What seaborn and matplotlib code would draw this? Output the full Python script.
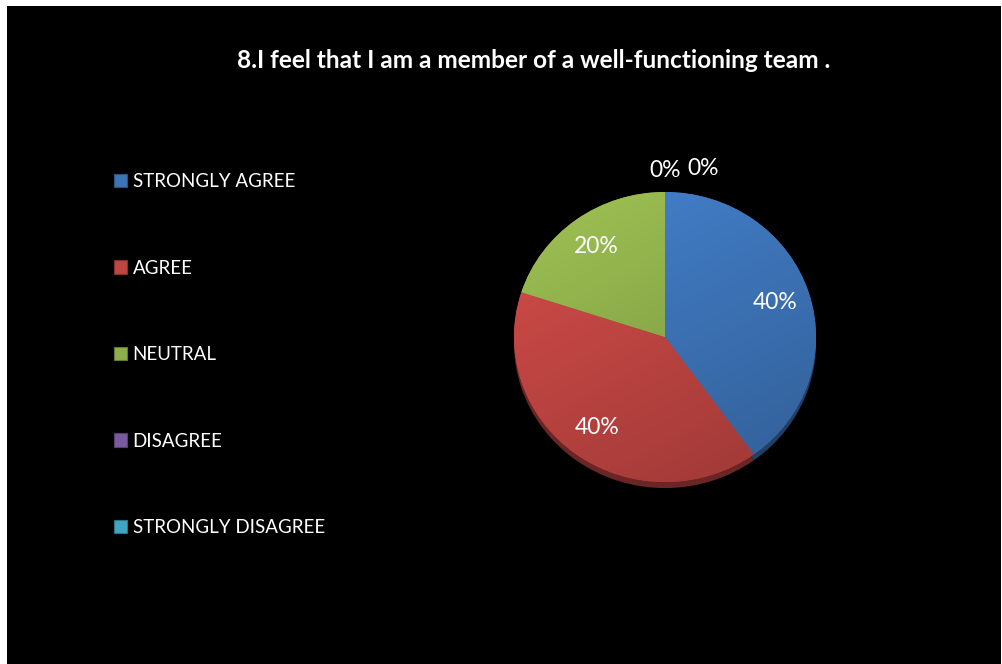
import numpy as np
import matplotlib
matplotlib.use("Agg")
import matplotlib.pyplot as plt
from matplotlib.patches import Rectangle
from matplotlib.colors import LinearSegmentedColormap, to_rgb
import seaborn as sns

# Survey responses
title = "8.I feel that I am a member of a well-functioning team ."
categories = ["STRONGLY AGREE", "AGREE", "NEUTRAL", "DISAGREE", "STRONGLY DISAGREE"]
shares = [40, 40, 20, 0, 0]
colors = ["#3d74b8", "#bf4542", "#8eae4b", "#7a5a9e", "#3fa6c2"]

sns.set_theme(style="white")
plt.rcParams["font.family"] = ["Lato", "DejaVu Sans"]

fig = plt.figure(figsize=(10.03, 6.64), dpi=100, facecolor="white")
W, H = 1003, 664
# black chart area
fig.patches.append(Rectangle((7 / W, 0), (1001 - 7) / W, (664 - 6) / H,
                             transform=fig.transFigure, facecolor="black",
                             edgecolor="none", zorder=-5))

fig.text(534 / W, 1 - 60 / H, title, color="white", fontsize=17.6,
         fontweight="bold", ha="center", va="center")

# pie axes: slightly flattened ellipse, centre (665, 337)
cx, cy, rx, ry = 665, 337, 151, 145
ax = fig.add_axes([(cx - rx) / W, 1 - (cy + ry) / H, 2 * rx / W, 2 * ry / H])
ax.set_axis_off()

def shade(c, f):
    rgb = np.array(to_rgb(c))
    return tuple(np.clip(rgb * f, 0, 1))

# darker rim underneath for depth
ax.pie(shares, colors=[shade(c, 0.55) for c in colors], startangle=90,
       counterclock=False, radius=1, center=(0, -0.042),
       wedgeprops=dict(linewidth=0))
wedges, _ = ax.pie(shares, colors=colors, startangle=90, counterclock=False,
                   radius=1, wedgeprops=dict(linewidth=0))

# soft gradient across each slice
yy, xx = np.mgrid[1:-1:200j, -1:1:200j]
grad = (xx * 0.35 - yy * 0.65)
for w, c in zip(wedges, colors):
    if w.theta2 - w.theta1 <= 0:
        continue
    cmap = LinearSegmentedColormap.from_list("g", [shade(c, 1.12), shade(c, 0.82)])
    im = ax.imshow(grad, extent=[-1, 1, -1, 1], cmap=cmap, zorder=w.get_zorder() + 0.1,
                   interpolation="bilinear", aspect="auto")
    im.set_clip_path(w)

ax.set_xlim(-1.0, 1.0)
ax.set_ylim(-1.0, 1.0)
ax.set_aspect("auto")

# percentage labels
zero_k = 0
for w, v in zip(wedges, shares):
    mid = np.deg2rad((w.theta1 + w.theta2) / 2)
    if v > 0:
        x, y = 0.77 * np.cos(mid), 0.77 * np.sin(mid)
        ax.text(x, y, f"{v}%", color="white", fontsize=16.5, ha="center", va="center", zorder=10)
    else:
        x, y = 1.15 * np.cos(mid) + zero_k * 0.25, 1.145 * np.sin(mid) + zero_k * 0.02
        ax.text(x, y, f"{v}%", color="white", fontsize=16.5, ha="center", va="center",
                zorder=10, clip_on=False)
        zero_k += 1

handles = [Rectangle((0, 0), 1, 1, facecolor=c, edgecolor=shade(c, 0.7), linewidth=0.8)
           for c in colors]
leg = fig.legend(handles, categories, loc="upper left",
                 bbox_to_anchor=(114 / W, 1 - 173 / H), frameon=False,
                 fontsize=13.5, labelcolor="white", handlelength=0.72, handleheight=0.72,
                 handletextpad=0.27, labelspacing=3.71, borderpad=0, borderaxespad=0)

fig.savefig("out.png", dpi=100, facecolor=fig.get_facecolor())
